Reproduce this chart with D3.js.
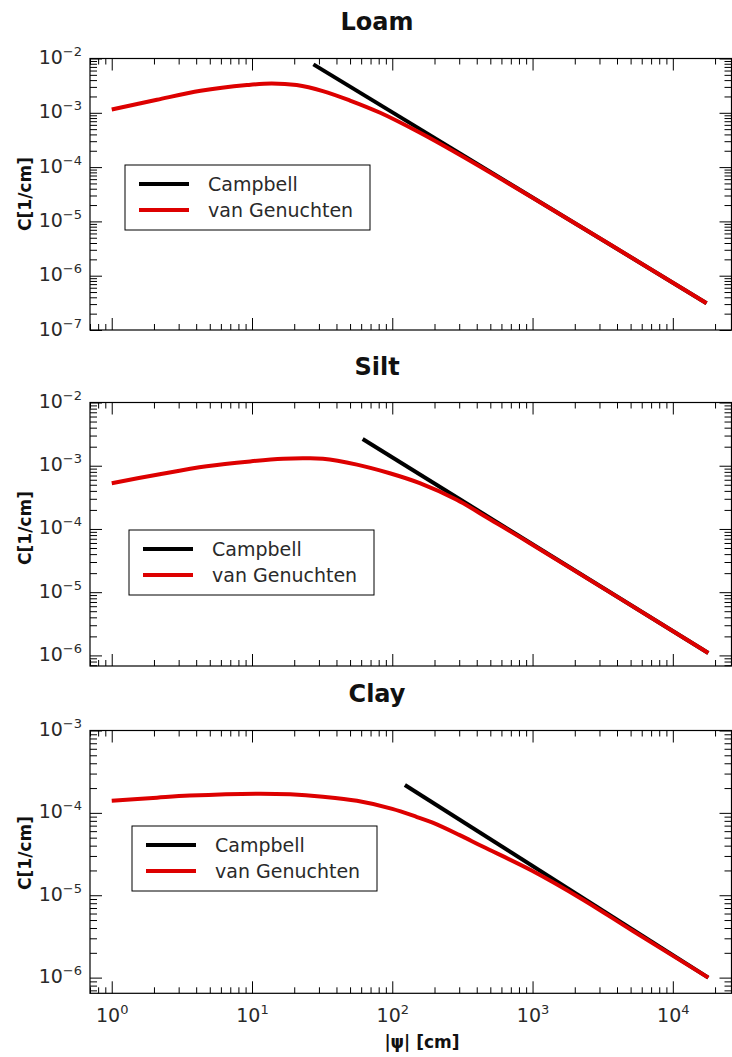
<!DOCTYPE html>
<html>

<head>
    <meta charset='utf-8'>
</head>
<style>
    body {
        margin: 0;
        background: #fff;
    }
    * {
        font-family: 'DejaVu Sans', sans-serif;
    }
</style>

<body>
    <svg width="732" height="1057"></svg>
    <script src="https://d3js.org/d3.v7.min.js"></script>
    <script>
        // soils, one panel each
        var soils = ["Loam", "Silt", "Clay"];
        var seriesNames = ["Campbell", "van Genuchten"];
        var seriesColors = ["#000000", "#dd0000"];

        // |psi| axis (cm), shared by all panels
        var psiLimits = [0.70, 2.62e4];
        var psiTicks = [1, 10, 100, 1000, 10000];

        // C axis limits per panel
        var cLimits = [
            [1e-7, 1e-2],
            [6.8e-7, 1e-2],
            [6.45e-7, 1e-3]
        ];

        // van Genuchten curves
        var loamVgPsi = [1, 2.1, 4.3, 9.2, 13.8, 20.8, 32, 50, 82, 153, 300, 1000, 17400];
        var loamVgC = [1.15e-3, 1.74e-3, 2.54e-3, 3.24e-3, 3.47e-3, 3.24e-3, 2.51e-3, 1.68e-3, 1.0e-3, 4.46e-4, 1.7e-4, 2.72e-5, 3.12e-7];
        var siltVgPsi = [1, 2.1, 4.75, 9.7, 16.7, 23, 32, 56, 96, 157, 288, 500, 958, 17900];
        var siltVgC = [5.3e-4, 7.2e-4, 9.8e-4, 1.17e-3, 1.29e-3, 1.31e-3, 1.29e-3, 1.04e-3, 7.6e-4, 5.3e-4, 2.9e-4, 1.41e-4, 5.96e-5, 1.09e-6];
        var clayVgPsi = [1, 2.1, 3.6, 10.8, 18.7, 32, 56, 100, 150, 194, 300, 441, 985, 2275, 5165, 17900];
        var clayVgC = [1.40e-4, 1.53e-4, 1.62e-4, 1.71e-4, 1.68e-4, 1.57e-4, 1.40e-4, 1.12e-4, 8.9e-5, 7.6e-5, 5.4e-5, 3.9e-5, 2.0e-5, 8.9e-6, 3.7e-6, 1.0e-6];

        // Campbell power laws (straight lines in log-log)
        var loamCbPsi = [27.4, 17400];
        var loamCbC = [7.8e-3, 3.12e-7];
        var siltCbPsi = [61.5, 17900];
        var siltCbC = [2.64e-3, 1.09e-6];
        var clayCbPsi = [123, 17900];
        var clayCbC = [2.18e-4, 1.0e-6];

        var vgPsi = [loamVgPsi, siltVgPsi, clayVgPsi];
        var vgC = [loamVgC, siltVgC, clayVgC];
        var cbPsi = [loamCbPsi, siltCbPsi, clayCbPsi];
        var cbC = [loamCbC, siltCbC, clayCbC];

        var svg = d3.select('svg');

        // panel frames in pixels
        var left = 90,
            right = 731.5;
        var frames = [{
            top: 58.5,
            bottom: 330,
            titleY: 30,
            labelY: 194,
            legend: [125, 165]
        }, {
            top: 402.5,
            bottom: 666,
            titleY: 375,
            labelY: 528,
            legend: [129, 530]
        }, {
            top: 730.5,
            bottom: 993.3,
            titleY: 702,
            labelY: 853,
            legend: [132, 826]
        }];

        var x = d3.scaleLog().domain(psiLimits).range([left, right]);

        function minorTicks(domain) {
            var out = [];
            var lo = Math.floor(Math.log10(domain[0])),
                hi = Math.ceil(Math.log10(domain[1]));
            for (var e = lo; e <= hi; e++) {
                for (var k = 2; k <= 9; k++) {
                    var v = k * Math.pow(10, e);
                    if (v >= domain[0] && v <= domain[1]) out.push(v);
                }
            }
            return out;
        }

        function majorTicks(domain) {
            var out = [];
            for (var e = Math.ceil(Math.log10(domain[0]) - 1e-9); e <= Math.floor(Math.log10(domain[1]) + 1e-9); e++) {
                out.push(Math.pow(10, e));
            }
            return out;
        }

        function powLabel(sel) {
            sel.selectAll('.tick text').each(function(d) {
                var t = d3.select(this);
                var e = Math.round(Math.log10(d));
                t.text(null);
                t.append('tspan').text('10');
                t.append('tspan').attr('dy', -8).attr('font-size', 13)
                    .text(e < 0 ? '\u2212' + (-e) : '' + e);
            });
        }

        function styleAxis(g) {
            g.select('.domain').remove();
            g.selectAll('.tick line').attr('stroke', '#000').attr('stroke-width', 1);
            g.selectAll('.tick text').attr('fill', '#2a2a2a').attr('font-size', 19)
                .attr('font-family', 'DejaVu Sans');
        }

        frames.forEach(function(f, i) {
            var y = d3.scaleLog().domain(cLimits[i]).range([f.bottom, f.top]);
            var panel = svg.append('g');
            var yMajor = majorTicks(cLimits[i]),
                yMinor = minorTicks(cLimits[i]);
            var xMajor = psiTicks,
                xMinor = minorTicks(psiLimits);

            // ticks on all four sides, pointing in
            panel.append('g').attr('transform', 'translate(0,' + f.bottom + ')')
                .call(d3.axisBottom(x).tickValues(xMinor).tickSize(-6).tickFormat(''))
                .call(styleAxis);
            var bx = panel.append('g').attr('transform', 'translate(0,' + f.bottom + ')')
                .call(d3.axisBottom(x).tickValues(xMajor).tickSize(-12).tickPadding(8)
                    .tickFormat(i == 2 ? function(d) { return d; } : ''))
                .call(styleAxis);
            if (i == 2) {
                bx.call(powLabel);
                bx.selectAll('.tick text').attr('y', 29).attr('dy', null);
            }
            panel.append('g').attr('transform', 'translate(0,' + f.top + ')')
                .call(d3.axisTop(x).tickValues(xMinor).tickSize(-6).tickFormat(''))
                .call(styleAxis);
            panel.append('g').attr('transform', 'translate(0,' + f.top + ')')
                .call(d3.axisTop(x).tickValues(xMajor).tickSize(-12).tickFormat(''))
                .call(styleAxis);

            panel.append('g').attr('transform', 'translate(' + left + ',0)')
                .call(d3.axisLeft(y).tickValues(yMinor).tickSize(-7).tickFormat(''))
                .call(styleAxis);
            var ly = panel.append('g').attr('transform', 'translate(' + left + ',0)')
                .call(d3.axisLeft(y).tickValues(yMajor).tickSize(-12).tickPadding(8))
                .call(styleAxis)
                .call(powLabel);
            ly.selectAll('.tick text').attr('dy', null).attr('y', 5);
            panel.append('g').attr('transform', 'translate(' + right + ',0)')
                .call(d3.axisRight(y).tickValues(yMinor).tickSize(-7).tickFormat(''))
                .call(styleAxis);
            panel.append('g').attr('transform', 'translate(' + right + ',0)')
                .call(d3.axisRight(y).tickValues(yMajor).tickSize(-12).tickFormat(''))
                .call(styleAxis);

            // clip for the curves
            var clipId = 'clip' + i;
            panel.append('clipPath').attr('id', clipId)
                .append('rect')
                .attr('x', left).attr('y', f.top)
                .attr('width', right - left).attr('height', f.bottom - f.top);

            var line = d3.line()
                .x(function(d) { return x(d[0]); })
                .y(function(d) { return y(d[1]); })
                .curve(d3.curveCatmullRom.alpha(0.5));

            var cb = d3.zip(cbPsi[i], cbC[i]);
            var vg = d3.zip(vgPsi[i], vgC[i]);
            var curves = panel.append('g').attr('clip-path', 'url(#' + clipId + ')');
            curves.append('path').datum(cb)
                .attr('d', line)
                .attr('fill', 'none')
                .attr('stroke', seriesColors[0])
                .attr('stroke-width', 4);
            curves.append('path').datum(vg)
                .attr('d', line)
                .attr('fill', 'none')
                .attr('stroke', seriesColors[1])
                .attr('stroke-width', 4);

            // frame
            panel.append('rect')
                .attr('x', left).attr('y', f.top)
                .attr('width', right - left).attr('height', f.bottom - f.top)
                .attr('fill', 'none')
                .attr('stroke', '#000')
                .attr('stroke-width', 1.2);

            // title
            panel.append('text')
                .attr('x', 377).attr('y', f.titleY)
                .attr('text-anchor', 'middle')
                .attr('font-size', 24)
                .attr('font-weight', 'bold')
                .attr('fill', '#111')
                .text(soils[i]);

            // y label
            panel.append('text')
                .attr('transform', 'translate(31,' + f.labelY + ') rotate(-90)')
                .attr('text-anchor', 'middle')
                .attr('font-size', 17)
                .attr('font-weight', 'bold')
                .attr('fill', '#111')
                .text('C[1/cm]');

            // legend
            var lg = panel.append('g').attr('transform', 'translate(' + f.legend[0] + ',' + f.legend[1] + ')');
            lg.append('rect')
                .attr('width', 245).attr('height', 65)
                .attr('fill', '#fff')
                .attr('stroke', '#000')
                .attr('stroke-width', 1);
            seriesNames.forEach(function(name, j) {
                lg.append('line')
                    .attr('x1', 14).attr('x2', 64)
                    .attr('y1', 19 + j * 26).attr('y2', 19 + j * 26)
                    .attr('stroke', seriesColors[j])
                    .attr('stroke-width', 4);
                lg.append('text')
                    .attr('x', 83).attr('y', 26 + j * 26)
                    .attr('font-size', 19)
                    .attr('fill', '#2a2a2a')
                    .text(name);
            });
        });

        // x label under the last panel
        svg.append('text')
            .attr('x', 422).attr('y', 1048)
            .attr('text-anchor', 'middle')
            .attr('font-size', 17)
            .attr('font-weight', 'bold')
            .attr('fill', '#111')
            .text('|\u03c8| [cm]');
    </script>
</body>

</html>
